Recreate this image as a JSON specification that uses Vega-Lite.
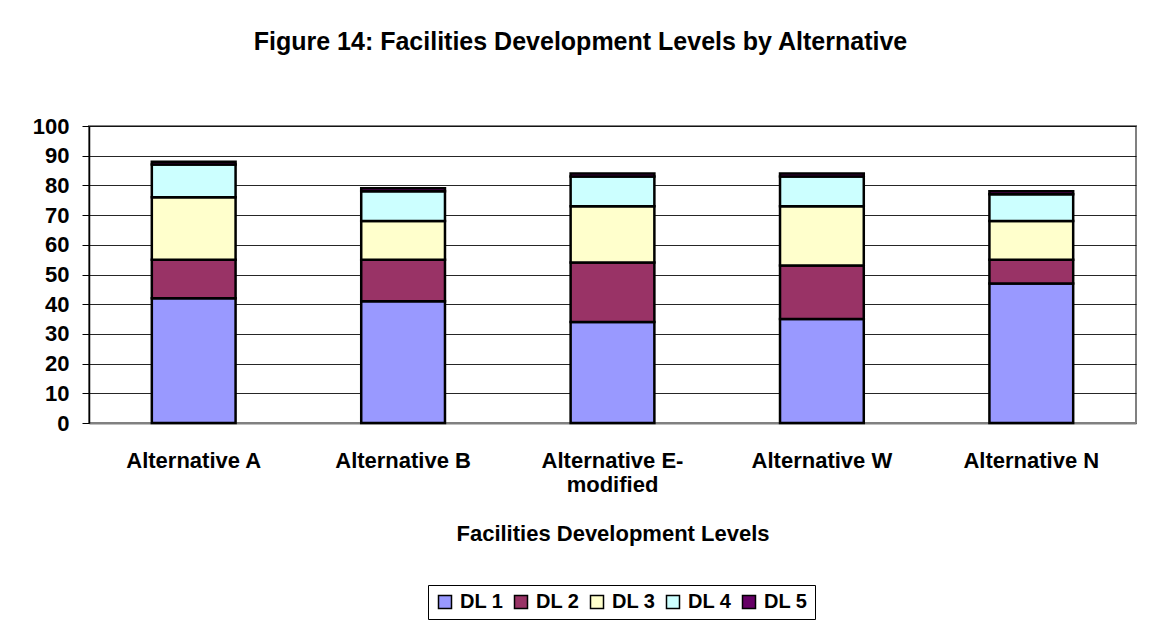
{
  "$schema": "https://vega.github.io/schema/vega-lite/v6.json",
  "width": 1047,
  "height": 297,
  "autosize": {"type": "none"},
  "padding": {"left": 89, "top": 126, "right": 25, "bottom": 202},
  "background": "white",
  "title": {
    "text": "Figure 14:  Facilities Development Levels by Alternative",
    "font": "Liberation Sans",
    "fontSize": 25,
    "fontWeight": "bold",
    "color": "black",
    "anchor": "middle",
    "dx": -32,
    "offset": 60
  },
  "config": {
    "view": {"stroke": "#808080", "strokeWidth": 2},
    "axis": {
      "labelFont": "Liberation Sans",
      "titleFont": "Liberation Sans",
      "labelFontWeight": "bold",
      "titleFontWeight": "bold",
      "labelColor": "black",
      "titleColor": "black"
    }
  },
  "data": {
    "values": [
      {"alt": "Alternative A", "level": "DL 1", "value": 42},
      {"alt": "Alternative A", "level": "DL 2", "value": 13},
      {"alt": "Alternative A", "level": "DL 3", "value": 21},
      {"alt": "Alternative A", "level": "DL 4", "value": 11},
      {"alt": "Alternative A", "level": "DL 5", "value": 1},
      {"alt": "Alternative B", "level": "DL 1", "value": 41},
      {"alt": "Alternative B", "level": "DL 2", "value": 14},
      {"alt": "Alternative B", "level": "DL 3", "value": 13},
      {"alt": "Alternative B", "level": "DL 4", "value": 10},
      {"alt": "Alternative B", "level": "DL 5", "value": 1},
      {"alt": "Alternative E-modified", "level": "DL 1", "value": 34},
      {"alt": "Alternative E-modified", "level": "DL 2", "value": 20},
      {"alt": "Alternative E-modified", "level": "DL 3", "value": 19},
      {"alt": "Alternative E-modified", "level": "DL 4", "value": 10},
      {"alt": "Alternative E-modified", "level": "DL 5", "value": 1},
      {"alt": "Alternative W", "level": "DL 1", "value": 35},
      {"alt": "Alternative W", "level": "DL 2", "value": 18},
      {"alt": "Alternative W", "level": "DL 3", "value": 20},
      {"alt": "Alternative W", "level": "DL 4", "value": 10},
      {"alt": "Alternative W", "level": "DL 5", "value": 1},
      {"alt": "Alternative N", "level": "DL 1", "value": 47},
      {"alt": "Alternative N", "level": "DL 2", "value": 8},
      {"alt": "Alternative N", "level": "DL 3", "value": 13},
      {"alt": "Alternative N", "level": "DL 4", "value": 9},
      {"alt": "Alternative N", "level": "DL 5", "value": 1}
    ]
  },
  "mark": {"type": "bar", "stroke": "black", "strokeWidth": 2.5, "strokeJoin": "miter"},
  "encoding": {
    "x": {
      "field": "alt",
      "type": "nominal",
      "sort": ["Alternative A", "Alternative B", "Alternative E-modified", "Alternative W", "Alternative N"],
      "scale": {"paddingInner": 0.6, "paddingOuter": 0.3},
      "title": "Facilities Development Levels",
      "axis": {
        "labelAngle": 0,
        "labelFontSize": 22,
        "labelPadding": 27,
        "labelLineHeight": 24,
        "labelExpr": "datum.label == 'Alternative E-modified' ? ['Alternative E-', 'modified'] : datum.label",
        "ticks": false,
        "domainColor": "#808080",
        "domainWidth": 2,
        "titleFontSize": 22,
        "titlePadding": 28
      }
    },
    "y": {
      "field": "value",
      "type": "quantitative",
      "aggregate": "sum",
      "stack": "zero",
      "scale": {"domain": [0, 100]},
      "title": null,
      "axis": {
        "values": [0, 10, 20, 30, 40, 50, 60, 70, 80, 90, 100],
        "labelFontSize": 22,
        "labelPadding": 13,
        "tickSize": 7,
        "tickColor": "black",
        "domainColor": "black",
        "domainWidth": 1.5,
        "gridColor": "black",
        "gridWidth": 1,
        "gridOpacity": 0.85
      }
    },
    "order": {"field": "level", "sort": "ascending"},
    "color": {
      "field": "level",
      "type": "nominal",
      "scale": {
        "domain": ["DL 1", "DL 2", "DL 3", "DL 4", "DL 5"],
        "range": ["#9999FF", "#993366", "#FFFFCC", "#CCFFFF", "#660066"]
      },
      "legend": {
        "title": null,
        "orient": "none",
        "legendX": 339,
        "legendY": 459,
        "direction": "horizontal",
        "symbolType": "square",
        "symbolSize": 169,
        "symbolStrokeColor": "black",
        "symbolStrokeWidth": 1.5,
        "symbolOpacity": 1,
        "labelFont": "Liberation Sans",
        "labelFontSize": 20,
        "labelFontWeight": "bold",
        "labelColor": "black",
        "columnPadding": 7,
        "labelOffset": 5,
        "strokeColor": "black",
        "padding": 7
      }
    }
  }
}
